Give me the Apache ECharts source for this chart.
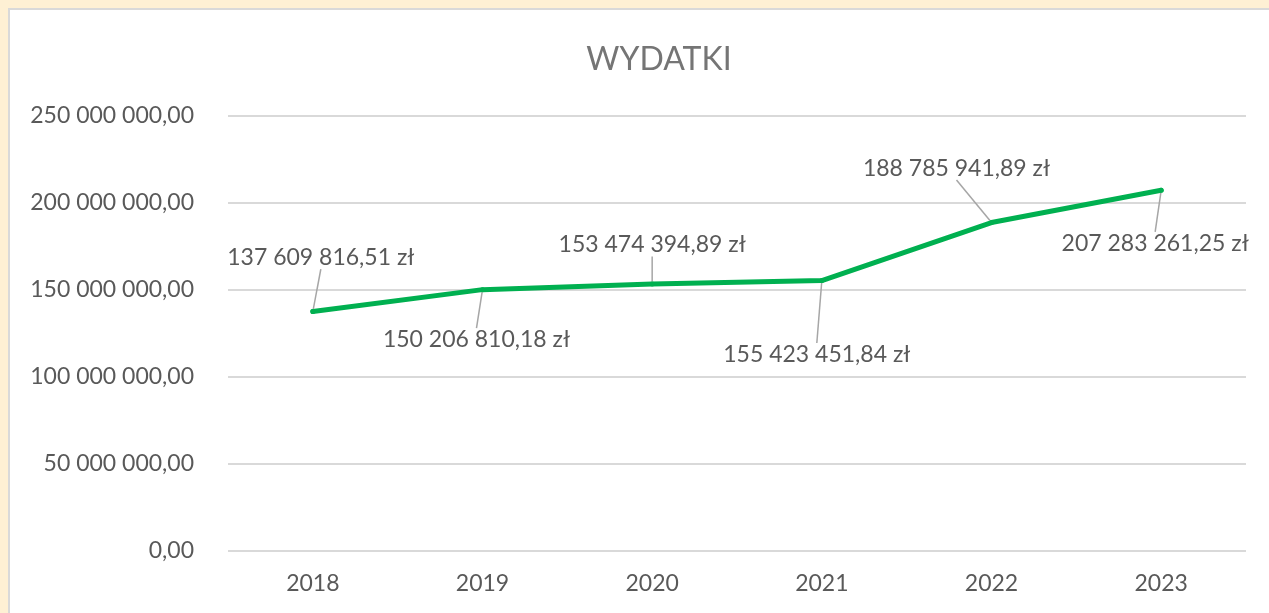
<!DOCTYPE html>
<html>
<head>
<meta charset="utf-8">
<script src="https://cdn.jsdelivr.net/npm/echarts@6/dist/echarts.min.js"></script>
<style>
html,body{margin:0;padding:0;background:#FEF0D4;}
#c{width:1269px;height:613px;}
</style>
</head>
<body>
<div id="c"></div>
<script>
var title = 'WYDATKI';
var years = ['2018', '2019', '2020', '2021', '2022', '2023'];
var wydatki = [137609816.51, 150206810.18, 153474394.89, 155423451.84, 188785941.89, 207283261.25];
var yMin = 0, yMax = 250000000, yStep = 50000000;
// label offsets relative to point (dx, dy)
var labelOffsets = [[8, -54], [-6, 50], [0, -39], [-5, 74], [-35, -54], [-6, 53]];

function fmt(v) {
  var s = v.toFixed(2).split('.');
  var ip = s[0].replace(/\B(?=(\d{3})+(?!\d))/g, ' ');
  return ip + ',' + s[1];
}

var FONT = 'Lato';
var TXT = '#595959';

var chart = echarts.init(document.getElementById('c'), null, {renderer: 'canvas'});
chart.setOption({
  backgroundColor: '#FEF0D4',
  animation: false,
  textStyle: {fontFamily: FONT},
  graphic: [{
    type: 'rect', z: -10, silent: true,
    shape: {x: 9, y: 9, width: 1300, height: 700},
    style: {fill: '#FFFFFF', stroke: '#D9D9D9', lineWidth: 2}
  }],
  title: {
    text: title, left: 654, textAlign: 'center', top: 39,
    textStyle: {fontFamily: FONT, fontSize: 32, fontWeight: 'normal', color: '#757575'}
  },
  grid: {left: 228, right: 23, top: 116, bottom: 62},
  xAxis: {
    type: 'category', data: years, boundaryGap: true,
    axisLine: {show: false}, axisTick: {show: false},
    axisLabel: {fontFamily: FONT, fontSize: 23, color: TXT, margin: 21}
  },
  yAxis: {
    type: 'value', min: yMin, max: yMax, interval: yStep,
    axisLine: {show: false}, axisTick: {show: false},
    splitLine: {lineStyle: {color: '#D9D9D9', width: 2}},
    axisLabel: {fontFamily: FONT, fontSize: 23, color: TXT, margin: 34, formatter: function (v) { return fmt(v); }}
  },
  series: [{
    type: 'line', data: wydatki,
    lineStyle: {color: '#00B050', width: 5, cap: 'round', join: 'round'},
    itemStyle: {color: '#00B050'},
    symbol: 'circle', symbolSize: 5, showSymbol: true,
    label: {
      show: true, position: 'top', fontFamily: FONT, fontSize: 23, color: TXT,
      formatter: function (p) { return fmt(p.value) + ' zł'; }
    },
    labelLine: {show: true, lineStyle: {color: '#A6A6A6', width: 1.5}},
    labelLayout: function (p) {
      var o = labelOffsets[p.dataIndex];
      var cx = p.rect.x + p.rect.width / 2;
      var cy = p.rect.y + p.rect.height / 2;
      return {x: cx + o[0], y: cy + o[1], align: 'center', verticalAlign: 'middle'};
    }
  }]
});
</script>
</body>
</html>
